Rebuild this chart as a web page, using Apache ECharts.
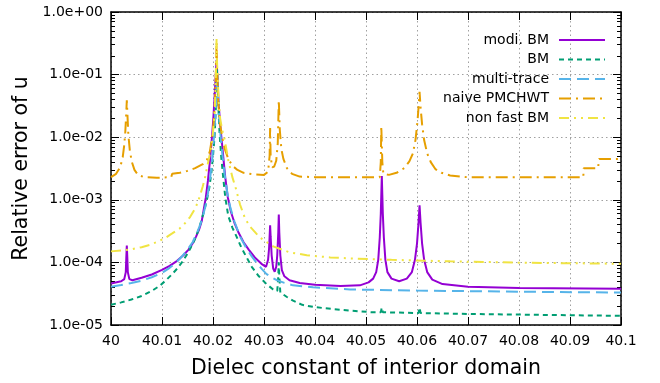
<!DOCTYPE html>
<html>
<head>
<meta charset="utf-8">
<script src="https://cdn.jsdelivr.net/npm/echarts@6/dist/echarts.min.js"></script>
<style>
  html, body { margin: 0; padding: 0; background: #fff; }
  #chart { width: 660px; height: 383px; }
</style>
</head>
<body>
<div id="chart"></div>
<script>
// values
const xTicks = { min: 40, max: 40.1, step: 0.01 };

const modiBmX = [40.0000, 40.0020, 40.0026, 40.0029, 40.0030, 40.0031, 40.0032, 40.0033, 40.0036, 40.0042,
  40.0060, 40.0080, 40.0100, 40.0115, 40.0129, 40.0142, 40.0152, 40.0160, 40.0167, 40.0173,
  40.0178, 40.0183, 40.0186, 40.0190, 40.0194, 40.0198, 40.0201, 40.0204, 40.0207, 40.0209,
  40.0211, 40.0214, 40.0217, 40.0220, 40.0224, 40.0229, 40.0235, 40.0242, 40.0250, 40.0260,
  40.0270, 40.0282, 40.0295, 40.0304, 40.0308, 40.0310, 40.0311, 40.0312, 40.0313, 40.0315,
  40.0318, 40.0321, 40.0324, 40.0326, 40.0328, 40.0329, 40.0330, 40.0332, 40.0335, 40.0340,
  40.0350, 40.0370, 40.0400, 40.0450, 40.0488, 40.0505, 40.0514, 40.0520, 40.0524, 40.0527,
  40.0529, 40.0530, 40.0531, 40.0532, 40.0533, 40.0535, 40.0538, 40.0542, 40.0550, 40.0565,
  40.0580, 40.0590, 40.0596, 40.0600, 40.0603, 40.0605, 40.0607, 40.0610, 40.0614, 40.0620,
  40.0630, 40.0650, 40.0700, 40.0800, 40.1000];
const modiBmY = [4.6e-5, 5.0e-5, 5.4e-5, 7e-5, 1.2e-4, 1.86e-4, 1.2e-4, 7e-5, 5.4e-5, 5.2e-5,
  5.7e-5, 6.4e-5, 7.6e-5, 8.8e-5, 1.05e-4, 1.3e-4, 1.6e-4, 2.0e-4, 2.6e-4, 3.4e-4,
  4.6e-4, 8e-4, 1.1e-3, 2.0e-3, 4.2e-3, 1.0e-2, 2.2e-2, 6e-2, 0.17, 8e-2,
  3.5e-2, 1.6e-2, 9e-3, 5e-3, 2.3e-3, 1.1e-3, 6.5e-4, 4.3e-4, 3.0e-4, 2.1e-4,
  1.6e-4, 1.2e-4, 9.5e-5, 8.5e-5, 1.1e-4, 1.7e-4, 2.6e-4, 3.9e-4, 2.6e-4, 1.3e-4,
  8e-5, 7.1e-5, 8.5e-5, 1.3e-4, 3e-4, 5.8e-4, 3e-4, 1.3e-4, 7.5e-5, 6e-5,
  5.2e-5, 4.7e-5, 4.4e-5, 4.2e-5, 4.3e-5, 4.8e-5, 5.5e-5, 7e-5, 1.1e-4, 2.5e-4,
  6e-4, 1.2e-3, 2.4e-3, 1.2e-3, 6e-4, 2.5e-4, 1.1e-4, 7e-5, 5.5e-5, 5.0e-5,
  5.5e-5, 7e-5, 1.1e-4, 2.0e-4, 4.3e-4, 8.2e-4, 4.3e-4, 2.0e-4, 1.1e-4, 7e-5,
  5.3e-5, 4.5e-5, 4.1e-5, 3.9e-5, 3.8e-5];

const bmX = [40.0000, 40.0020, 40.0040, 40.0060, 40.0080, 40.0095, 40.0108, 40.0120, 40.0130, 40.0139,
  40.0148, 40.0156, 40.0164, 40.0171, 40.0177, 40.0183, 40.0188, 40.0193, 40.0197, 40.0200,
  40.0203, 40.0205, 40.0207, 40.0208, 40.0209, 40.0211, 40.0213, 40.0216, 40.0220, 40.0224,
  40.0230, 40.0238, 40.0246, 40.0256, 40.0266, 40.0276, 40.0290, 40.0305, 40.0318, 40.0326,
  40.0328, 40.0329, 40.0330, 40.0332, 40.0345, 40.0357, 40.0375, 40.0396, 40.0420, 40.0449,
  40.0510, 40.0529, 40.0531, 40.0533, 40.0603, 40.0605, 40.0607, 40.0700, 40.0850, 40.1000];
const bmY = [2.1e-5, 2.3e-5, 2.55e-5, 2.9e-5, 3.5e-5, 4.2e-5, 5.2e-5, 6.5e-5, 8.0e-5, 1.0e-4,
  1.3e-4, 1.7e-4, 2.3e-4, 3.2e-4, 4.6e-4, 6.8e-4, 1.0e-3, 1.6e-3, 2.8e-3, 5e-3,
  1.0e-2, 2.2e-2, 6e-2, 0.12, 7e-2, 2.5e-2, 1.1e-2, 5e-3, 2.3e-3, 1.1e-3,
  5.5e-4, 3.6e-4, 2.6e-4, 1.7e-4, 1.2e-4, 8.5e-5, 6e-5, 4.5e-5, 3.7e-5, 3.5e-5,
  6e-5, 1.0e-4, 6e-5, 3.3e-5, 2.8e-5, 2.45e-5, 2.1e-5, 1.95e-5, 1.85e-5, 1.75e-5,
  1.6e-5, 1.6e-5, 1.9e-5, 1.6e-5, 1.55e-5, 1.9e-5, 1.55e-5, 1.5e-5, 1.45e-5, 1.4e-5];

const multiTraceX = [40.0000, 40.0020, 40.0040, 40.0060, 40.0080, 40.0100, 40.0115, 40.0128, 40.0139, 40.0150,
  40.0160, 40.0168, 40.0175, 40.0181, 40.0186, 40.0190, 40.0194, 40.0198, 40.0201, 40.0204,
  40.0206, 40.0208, 40.0210, 40.0212, 40.0215, 40.0219, 40.0223, 40.0228, 40.0234, 40.0242,
  40.0253, 40.0265, 40.0276, 40.0286, 40.0296, 40.0305, 40.0315, 40.0325, 40.0340, 40.0357,
  40.0396, 40.0469, 40.0600, 40.0800, 40.1000];
const multiTraceY = [4.1e-5, 4.35e-5, 4.7e-5, 5.1e-5, 5.8e-5, 6.8e-5, 8.2e-5, 1.0e-4, 1.24e-4, 1.6e-4,
  2.1e-4, 2.9e-4, 4.0e-4, 5.8e-4, 8.5e-4, 1.25e-3, 2.1e-3, 4e-3, 8e-3, 1.8e-2,
  4e-2, 0.1, 4.5e-2, 2.2e-2, 1.0e-2, 4.8e-3, 2.5e-3, 1.3e-3, 7.5e-4, 4.5e-4,
  2.6e-4, 1.7e-4, 1.25e-4, 9.7e-5, 7.8e-5, 6.5e-5, 5.8e-5, 5.2e-5, 4.7e-5, 4.3e-5,
  4.0e-5, 3.7e-5, 3.55e-5, 3.4e-5, 3.3e-5];

const naiveX = [40.0000, 40.0010, 40.0018, 40.0023, 40.0026, 40.0028, 40.0030, 40.0031, 40.0032, 40.0034,
  40.0037, 40.0041, 40.0046, 40.0053, 40.0065, 40.0090, 40.0118, 40.0120, 40.0135, 40.0150,
  40.0165, 40.0180, 40.0188, 40.0194, 40.0199, 40.0202, 40.0204, 40.0206, 40.0207, 40.0208,
  40.0210, 40.0213, 40.0218, 40.0223, 40.0230, 40.0238, 40.0248, 40.0260, 40.0280, 40.0300,
  40.0308, 40.0311, 40.0312, 40.0313, 40.0316, 40.0320, 40.0324, 40.0327, 40.0329, 40.0331,
  40.0334, 40.0338, 40.0345, 40.0355, 40.0370, 40.0400, 40.0527, 40.0529, 40.0530, 40.0531,
  40.0532, 40.0534, 40.0545, 40.0560, 40.0575, 40.0585, 40.0592, 40.0597, 40.0601, 40.0603,
  40.0605, 40.0607, 40.0610, 40.0614, 40.0620, 40.0627, 40.0636, 40.0648, 40.0665, 40.0698,
  40.0926, 40.0927, 40.0955, 40.0957, 40.1000];
const naiveY = [2.3e-3, 2.6e-3, 3.3e-3, 4.8e-3, 7.5e-3, 1.2e-2, 2.5e-2, 3.9e-2, 2.5e-2, 1.1e-2,
  6e-3, 4e-3, 3e-3, 2.5e-3, 2.3e-3, 2.25e-3, 2.3e-3, 2.6e-3, 2.7e-3, 2.9e-3,
  3.2e-3, 3.7e-3, 4.3e-3, 6e-3, 1.1e-2, 2e-2, 4e-2, 0.12, 0.33, 0.12,
  4e-2, 1.8e-2, 1e-2, 6.5e-3, 4.5e-3, 3.5e-3, 3e-3, 2.7e-3, 2.55e-3, 2.5e-3,
  2.8e-3, 5e-3, 1.4e-2, 5e-3, 3.3e-3, 3.4e-3, 4.2e-3, 8e-3, 3.9e-2, 1.3e-2,
  6.5e-3, 4.5e-3, 3.2e-3, 2.6e-3, 2.35e-3, 2.3e-3, 2.3e-3, 4e-3, 1.5e-2, 1.5e-2,
  4e-3, 2.6e-3, 2.5e-3, 2.7e-3, 3.2e-3, 4.1e-3, 5.5e-3, 9e-3, 1.8e-2, 3e-2,
  5.3e-2, 3e-2, 1.6e-2, 9e-3, 5.5e-3, 4e-3, 3.1e-3, 2.7e-3, 2.45e-3, 2.3e-3,
  2.3e-3, 3.2e-3, 3.2e-3, 4.5e-3, 4.5e-3];

const nonFastX = [40.0000, 40.0020, 40.0040, 40.0060, 40.0076, 40.0092, 40.0106, 40.0120, 40.0135, 40.0146,
  40.0155, 40.0163, 40.0170, 40.0175, 40.0180, 40.0184, 40.0190, 40.0196, 40.0199, 40.0203,
  40.0205, 40.0206, 40.0207, 40.0208, 40.0209, 40.0211, 40.0214, 40.0218, 40.0222, 40.0230,
  40.0238, 40.0245, 40.0253, 40.0263, 40.0273, 40.0292, 40.0318, 40.0350, 40.0384, 40.0430,
  40.0469, 40.0550, 40.0665, 40.0800, 40.1000];
const nonFastY = [1.5e-4, 1.55e-4, 1.62e-4, 1.75e-4, 1.9e-4, 2.15e-4, 2.45e-4, 2.9e-4, 3.5e-4, 4.3e-4,
  5.3e-4, 6.8e-4, 9e-4, 1.2e-3, 1.65e-3, 2.2e-3, 3.8e-3, 6.5e-3, 1.0e-2, 2.2e-2,
  6e-2, 0.15, 0.37, 0.15, 0.1, 4e-2, 2e-2, 1.3e-2, 1.0e-2, 4.3e-3,
  2.3e-3, 1.5e-3, 8.4e-4, 5e-4, 3.7e-4, 2.5e-4, 1.8e-4, 1.45e-4, 1.3e-4, 1.2e-4,
  1.16e-4, 1.1e-4, 1.04e-4, 9.9e-5, 9.5e-5];

const seriesNames = ['modi. BM', 'BM', 'multi-trace', 'naive PMCHWT', 'non fast BM'];
const seriesColors = ['#9400d3', '#009e73', '#56b4e9', '#e69f00', '#f0e442'];
const seriesDashes = ['solid', [5, 4], [12, 6], [12, 5, 2, 5], [10, 5, 2, 5, 2, 5]];
const seriesX = [modiBmX, bmX, multiTraceX, naiveX, nonFastX];
const seriesY = [modiBmY, bmY, multiTraceY, naiveY, nonFastY];

const minorY = [];
for (let e = -5; e < 0; e++) {
  for (let m = 2; m <= 9; m++) minorY.push(m * Math.pow(10, e));
}

const font = 'DejaVu Sans';
const frame = { show: true, lineStyle: { color: '#000', width: 1.5 } };

function fmtExp(v) {
  return v.toExponential(1).replace(/e([+-])(\d)$/, 'e$10$2');
}

function logAxis(position, extra) {
  return Object.assign({
    type: 'log',
    logBase: 10,
    min: 1e-5,
    max: 1,
    position: position,
    axisLine: frame,
    axisTick: { show: true, inside: true, length: 8, lineStyle: { color: '#000', width: 1 } },
    axisLabel: { show: false },
    splitLine: { show: false },
    minorTick: { show: false }
  }, extra);
}

const chart = echarts.init(document.getElementById('chart'), null, { renderer: 'canvas' });

chart.setOption({
  animation: false,
  backgroundColor: '#fff',
  grid: { left: 111, right: 39, top: 12, bottom: 58, outerBoundsMode: 'none' },
  legend: {
    orient: 'vertical',
    right: 54,
    top: 33,
    align: 'right',
    padding: 0,
    itemWidth: 46,
    itemHeight: 14,
    itemGap: 5.5,
    data: seriesNames,
    itemStyle: { opacity: 0 },
    textStyle: { fontFamily: font, fontSize: 14, color: '#000', padding: [0, 5, 0, 0] }
  },
  xAxis: [
    {
      type: 'value',
      min: xTicks.min,
      max: xTicks.max,
      interval: xTicks.step,
      position: 'bottom',
      axisLine: frame,
      axisTick: { inside: true, length: 8, lineStyle: { color: '#000', width: 1 } },
      axisLabel: {
        margin: 9,
        fontFamily: font,
        fontSize: 14,
        color: '#000',
        formatter: v => String(+v.toFixed(2))
      },
      splitLine: { show: true, lineStyle: { color: '#a0a0a0', type: [1.5, 3], width: 1 } },
      name: 'Dielec constant of interior domain',
      nameLocation: 'middle',
      nameGap: 33,
      nameTextStyle: { fontFamily: font, fontSize: 20.5, color: '#000' }
    },
    {
      type: 'value',
      min: xTicks.min,
      max: xTicks.max,
      interval: xTicks.step,
      position: 'top',
      axisLine: frame,
      axisTick: { inside: true, length: 8, lineStyle: { color: '#000', width: 1 } },
      axisLabel: { show: false },
      splitLine: { show: false }
    }
  ],
  yAxis: [
    logAxis('left', {
      axisLabel: { show: true, margin: 8, fontFamily: font, fontSize: 14, color: '#000', formatter: fmtExp },
      splitLine: { show: true, lineStyle: { color: '#a0a0a0', type: [1.5, 3], width: 1 } },
      name: 'Relative error of u',
      nameLocation: 'middle',
      nameGap: 67,
      nameTextStyle: { fontFamily: font, fontSize: 20.5, color: '#000' }
    }),
    logAxis('left', {
      axisLine: { show: false },
      axisTick: { show: true, inside: true, length: 4, customValues: minorY, lineStyle: { color: '#000', width: 1 } }
    }),
    logAxis('right', {}),
    logAxis('right', {
      axisLine: { show: false },
      axisTick: { show: true, inside: true, length: 4, customValues: minorY, lineStyle: { color: '#000', width: 1 } }
    })
  ],
  series: seriesNames.map((name, i) => ({
    name: name,
    type: 'line',
    xAxisIndex: 0,
    yAxisIndex: 0,
    symbol: 'none',
    showSymbol: false,
    clip: true,
    lineStyle: { width: 2, color: seriesColors[i], type: seriesDashes[i] },
    itemStyle: { color: seriesColors[i] },
    data: seriesX[i].map((x, j) => [x, seriesY[i][j]])
  }))
});
</script>
</body>
</html>
